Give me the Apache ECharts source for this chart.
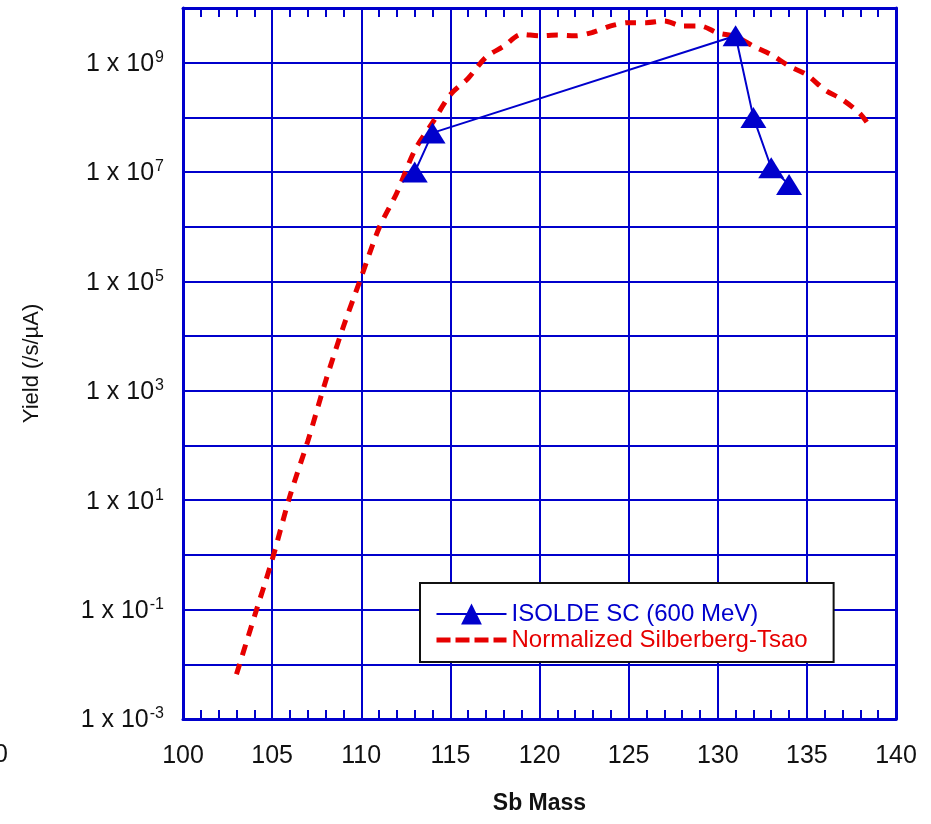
<!DOCTYPE html>
<html>
<head>
<meta charset="utf-8">
<script src="https://cdn.jsdelivr.net/npm/echarts@6/dist/echarts.min.js"></script>
<style>
    html, body { margin: 0; padding: 0; background: #fff; }
    #chart { width: 931px; height: 824px; }
</style>
</head>
<body>
<div id="chart"></div>
<script>
    // ISOLDE SC (600 MeV) measured yields
    var isoldeMass = [113, 114, 131, 132, 133, 134];
    var isoldeYield = [1.0e7, 5.2e7, 3.1e9, 1.0e8, 1.2e7, 5.9e6];

    // Normalized Silberberg-Tsao curve
    var stMass = [103, 104, 105, 106, 107, 108, 109, 110, 111, 112, 113, 114, 115, 116, 117, 118, 119, 120,
        121, 122, 123, 124, 125, 126, 127, 128, 129, 130, 131, 132, 133, 134, 135, 136, 137, 138, 138.6];
    var stYield = [6.6e-3, 7.4e-2, 0.81, 12, 120, 1.5e3, 1.5e4, 1.2e5, 9.5e5, 4.2e6, 2.5e7, 8.0e7, 2.6e8, 5.2e8,
        1.26e9, 2.0e9, 3.3e9, 3.1e9, 3.2e9, 3.1e9, 3.6e9, 4.7e9, 5.4e9, 5.4e9, 5.8e9, 4.7e9, 4.7e9, 3.5e9,
        3.0e9, 2.0e9, 1.4e9, 8.7e8, 6.0e8, 3.2e8, 2.1e8, 1.15e8, 6.3e7];

    var xTicks = { min: 100, max: 140, step: 5 };
    var yTicks = { min: 1e-3, max: 1e10 };

    var BLUE = '#0000cc';
    var RED = '#e60000';
    var FONT = 'Liberation Sans';

    function pairs(xs, ys) {
        return xs.map(function (x, i) { return [x, ys[i]]; });
    }

    var chart = echarts.init(document.getElementById('chart'));
    chart.setOption({
        backgroundColor: '#fff',
        animation: false,
        textStyle: { fontFamily: FONT },
        grid: { left: 183, right: 35, top: 8, bottom: 105 },
        graphic: [
            // clipped tick label at the far left edge
            { type: 'text', left: -6, top: 743, style: { text: '0', font: '25px "Liberation Sans"', fill: '#111' } }
        ],
        legend: {
            left: 420,
            top: 583,
            orient: 'vertical',
            backgroundColor: '#fff',
            borderColor: '#111',
            borderWidth: 2,
            borderRadius: 0,
            padding: [19, 26, 10, 14],
            itemWidth: 70,
            itemHeight: 26,
            itemGap: 2,
            textStyle: { fontSize: 24, fontFamily: FONT },
            data: [
                { name: 'ISOLDE SC (600 MeV)', textStyle: { color: BLUE } },
                {
                    name: 'Normalized Silberberg-Tsao',
                    textStyle: { color: RED },
                    itemStyle: { color: 'rgba(0,0,0,0)', borderWidth: 0 },
                    lineStyle: { type: [14, 5], width: 5 }
                }
            ]
        },
        xAxis: [{
            type: 'value',
            min: xTicks.min,
            max: xTicks.max,
            interval: xTicks.step,
            name: 'Sb Mass',
            nameLocation: 'middle',
            nameGap: 73,
            nameTextStyle: { fontSize: 23, fontWeight: 'bold', color: '#111' },
            axisLine: { onZero: false, lineStyle: { color: BLUE, width: 3 } },
            axisTick: { show: false },
            minorTick: { show: true, splitNumber: 5, length: -9, lineStyle: { color: BLUE, width: 2 } },
            axisLabel: { fontSize: 25, color: '#111', margin: 25 },
            splitLine: { show: true, lineStyle: { color: BLUE, width: 2 } }
        }, {
            type: 'value',
            position: 'top',
            min: xTicks.min,
            max: xTicks.max,
            interval: xTicks.step,
            axisLine: { onZero: false, lineStyle: { color: BLUE, width: 3 } },
            axisTick: { show: false },
            minorTick: { show: true, splitNumber: 5, length: -9, lineStyle: { color: BLUE, width: 2 } },
            axisLabel: { show: false },
            splitLine: { show: false }
        }],
        yAxis: [{
            type: 'log',
            logBase: 10,
            min: yTicks.min,
            max: yTicks.max,
            interval: 1,
            name: 'Yield (/s/µA)',
            nameLocation: 'middle',
            nameGap: 140,
            nameRotate: 90,
            nameTextStyle: { fontSize: 22, color: '#111' },
            axisLine: { show: true, lineStyle: { color: BLUE, width: 3 } },
            axisTick: { show: false },
            axisLabel: {
                margin: 19,
                color: '#111',
                formatter: function (v) {
                    var e = Math.round(Math.log10(v));
                    if (e % 2 === 0) return '';
                    return '{b|1 x 10}{sup|' + e + '}';
                },
                rich: {
                    b: { fontSize: 25, lineHeight: 26, color: '#111', padding: [3, 0, 0, 0] },
                    sup: { fontSize: 16, lineHeight: 10, verticalAlign: 'top', color: '#111', padding: [0, 0, 0, 1] }
                }
            },
            splitLine: { show: true, lineStyle: { color: BLUE, width: 2 } }
        }, {
            type: 'log',
            logBase: 10,
            position: 'right',
            min: yTicks.min,
            max: yTicks.max,
            interval: 1,
            axisLine: { show: true, lineStyle: { color: BLUE, width: 3 } },
            axisTick: { show: false },
            axisLabel: { show: false },
            splitLine: { show: false }
        }],
        series: [{
            name: 'Normalized Silberberg-Tsao',
            type: 'line',
            data: pairs(stMass, stYield),
            smooth: 0.3,
            showSymbol: false,
            symbol: 'none',
            lineStyle: { color: RED, width: 5, type: [11, 9] },
            itemStyle: { color: RED },
            z: 3
        }, {
            name: 'ISOLDE SC (600 MeV)',
            type: 'line',
            data: pairs(isoldeMass, isoldeYield),
            symbol: 'triangle',
            symbolSize: [26, 21],
            lineStyle: { color: BLUE, width: 2 },
            itemStyle: { color: BLUE },
            z: 4
        }]
    });
</script>
</body>
</html>
